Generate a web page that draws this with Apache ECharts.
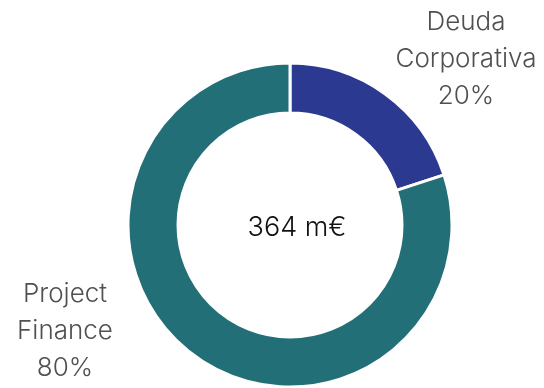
<!DOCTYPE html>
<html>
<head>
<meta charset="utf-8">
<script src="https://cdn.jsdelivr.net/npm/echarts@6/dist/echarts.min.js"></script>
<style>
  html, body { margin: 0; padding: 0; background: #fff; }
  #chart { width: 544px; height: 388px; }
</style>
</head>
<body>
<div id="chart"></div>
<script>
// datos del gráfico
const categories = ['Deuda\nCorporativa', 'Project\nFinance'];
const shares = [20, 80];
const colors = ['#2b3990', '#236f78'];
const totalLabel = '364 m€';
// posición del texto de cada etiqueta
const labelSpots = [[466, 59], [65, 331]];

const chart = echarts.init(document.getElementById('chart'));
const font = 'Inter, "Open Sans", sans-serif';

chart.setOption({
    animation: false,
    title: {
        text: totalLabel,
        left: 292,
        top: 223,
        textAlign: 'center',
        textVerticalAlign: 'middle',
        textStyle: { fontFamily: font, fontSize: 27, fontWeight: 300, color: '#111' }
    },
    series: [{
        type: 'pie',
        center: [290, 225],
        radius: [112, 162],
        startAngle: 90,
        clockwise: true,
        itemStyle: { borderColor: '#fff', borderWidth: 3 },
        label: {
            show: true,
            position: 'outside',
            formatter: p => p.name + '\n' + p.value + '%',
            fontFamily: font,
            fontSize: 26,
            fontWeight: 300,
            lineHeight: 37,
            color: '#505050',
            align: 'center',
            overflow: 'none'
        },
        labelLine: { show: false },
        labelLayout: p => ({
            x: labelSpots[p.dataIndex][0],
            y: labelSpots[p.dataIndex][1],
            align: 'center',
            verticalAlign: 'middle'
        }),
        data: categories.map((c, i) => ({
            name: c,
            value: shares[i],
            itemStyle: { color: colors[i] }
        }))
    }]
});
</script>
</body>
</html>
